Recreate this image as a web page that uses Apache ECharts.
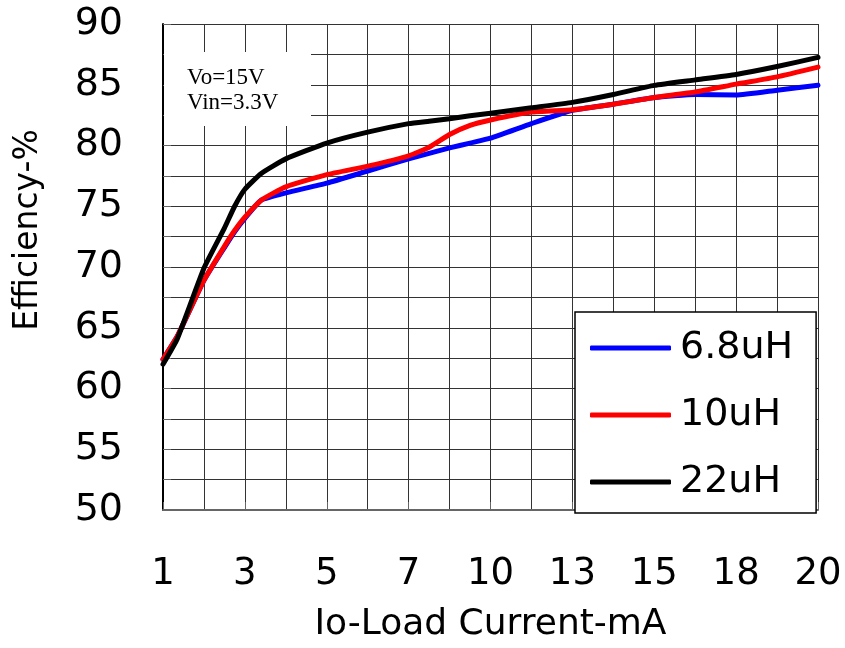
<!DOCTYPE html>
<html>
<head>
<meta charset="utf-8">
<script src="https://cdn.jsdelivr.net/npm/echarts@6/dist/echarts.min.js"></script>
<style>
  html, body { margin: 0; padding: 0; background: #fff; overflow: hidden; }
  #chart { width: 845px; height: 648px; }
</style>
</head>
<body>
<div id="chart"></div>
<script>
// Load-current tick labels, evenly spaced on the axis (one label per 2 slots)
const currentLabels = ['1', '3', '5', '7', '10', '13', '15', '18', '20'];
// Slot position of each measured point along the current axis
const slotPos = [0, 0.35, 1, 1.5, 1.75, 2, 2.4, 3, 4, 5, 6, 6.5, 7, 7.5, 8, 9, 10, 11, 12, 13, 14, 15, 16];
// Efficiency (%) for each inductor value
const eff6u8 = [62.4, 64.3, 68.9, 71.6, 72.9, 74.0, 75.5, 76.1, 76.9, 77.9, 78.9, 79.35, 79.8, 80.2, 80.6, 81.8, 82.9, 83.4, 83.95, 84.2, 84.15, 84.55, 84.95];
const eff10u = [62.4, 64.3, 68.9, 71.7, 73.0, 74.1, 75.5, 76.6, 77.6, 78.3, 79.15, 79.85, 80.9, 81.65, 82.1, 82.75, 82.95, 83.4, 83.95, 84.4, 85.05, 85.65, 86.45];
const eff22u = [62.0, 64.1, 69.9, 73.2, 75.0, 76.4, 77.7, 78.9, 80.2, 81.1, 81.8, 82.0, 82.2, 82.45, 82.65, 83.1, 83.55, 84.2, 84.95, 85.4, 85.85, 86.5, 87.25];
const seriesNames = ['6.8uH', '10uH', '22uH'];
const seriesColors = ['#0000ff', '#ff0000', '#000000'];

const pair = vals => slotPos.map((p, i) => [p, vals[i]]);
const SANS = '"DejaVu Sans", sans-serif';
const gridLine = { show: true, lineStyle: { color: '#333', width: 1 } };

const chart = echarts.init(document.getElementById('chart'), null, { renderer: 'canvas', width: 845, height: 648 });
chart.setOption({
  animation: false,
  backgroundColor: '#fff',
  grid: { left: 163, top: 24, width: 655, height: 492, containLabel: false },
  xAxis: {
    type: 'value', min: 0, max: 16, interval: 2,
    name: 'Io-Load Current-mA', nameLocation: 'middle', nameGap: 97,
    nameTextStyle: { fontFamily: SANS, fontSize: 36, color: '#000' },
    axisLine: { show: true, lineStyle: { color: '#666', width: 2 } },
    axisTick: { show: true, inside: true, length: 8, lineStyle: { color: '#666' } },
    axisLabel: {
      margin: 46, fontFamily: SANS, fontSize: 37, color: '#000',
      formatter: v => currentLabels[Math.round(v / 2)] || ''
    },
    splitLine: gridLine,
    minorTick: { show: false, splitNumber: 2 },
    minorSplitLine: gridLine
  },
  yAxis: {
    type: 'value', min: 50, max: 90, interval: 5,
    axisLine: { show: true, lineStyle: { color: '#000', width: 2 } },
    axisTick: { show: true, inside: true, length: 8, lineStyle: { color: '#666' } },
    axisLabel: { margin: 40, fontFamily: SANS, fontSize: 38, color: '#000' },
    splitLine: gridLine,
    minorTick: { show: true, splitNumber: 2, length: 8, lineStyle: { color: '#666' } },
    minorSplitLine: gridLine
  },
  legend: {
    orient: 'vertical', left: 575, top: 312,
    padding: [16, 23, 11, 15], itemGap: 27,
    backgroundColor: '#fff', borderColor: '#000', borderWidth: 1.5, borderRadius: 0,
    icon: 'roundRect', itemWidth: 81, itemHeight: 5,
    textStyle: { fontFamily: SANS, fontSize: 38, lineHeight: 40, color: '#000', padding: [0, 0, 0, 4] },
    data: seriesNames
  },
  series: [eff6u8, eff10u, eff22u].map((vals, k) => ({
    name: seriesNames[k], type: 'line', data: pair(vals),
    showSymbol: false, smooth: 0.15, z: 3 + k,
    lineStyle: { color: seriesColors[k], width: 5, cap: 'round', join: 'round' },
    itemStyle: { color: seriesColors[k] }
  })),
  graphic: [
    {
      type: 'rect', z: 10, silent: true,
      shape: { x: 164, y: 52, width: 147, height: 74 },
      style: { fill: '#fff' }
    },
    {
      type: 'text', z: 11, silent: true, x: 187, y: 65,
      style: {
        text: 'Vo=15V\nVin=3.3V', font: '23px "Liberation Serif", serif',
        lineHeight: 25, fill: '#000', verticalAlign: 'top'
      }
    },
    {
      type: 'text', z: 11, silent: true, x: 28, y: 230, rotation: Math.PI / 2,
      style: {
        text: 'Efficiency-%', font: '33px "DejaVu Sans", sans-serif',
        fill: '#000', align: 'center', verticalAlign: 'middle'
      }
    }
  ]
});
</script>
</body>
</html>
